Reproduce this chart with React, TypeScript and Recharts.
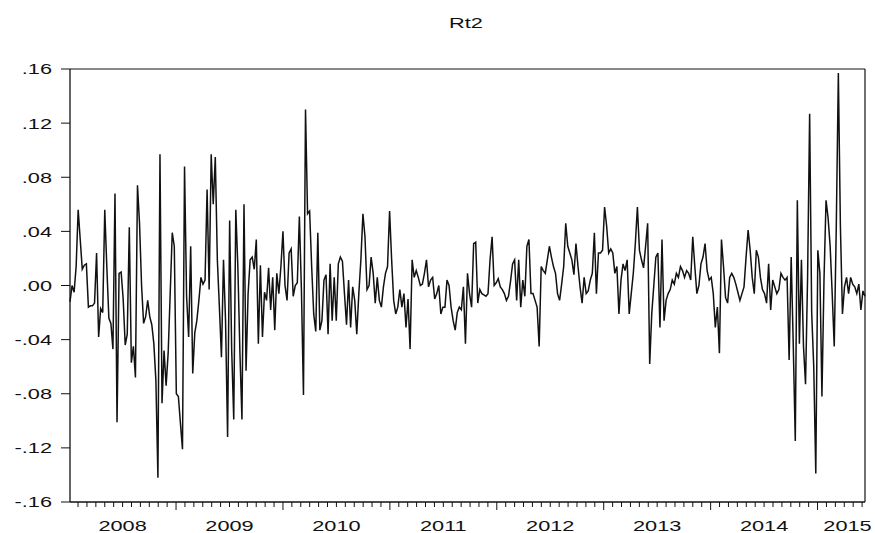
import React from 'react';
import { LineChart, Line, XAxis, YAxis, ReferenceLine } from 'recharts';

// Weekly returns Rt2, first observation 4 Jan 2008
const START_DATE = Date.UTC(2008, 0, 4);

const seg2008 = [
  -0.012, 0.000, -0.005, 0.014, 0.056, 0.034, 0.012, 0.015, 0.016, -0.016,
  -0.015, -0.015, -0.013, 0.024, -0.038, -0.017, -0.020, 0.056, 0.014, -0.024,
  -0.028, -0.047, 0.068, -0.101, 0.009, 0.010, -0.010, -0.044, -0.036, 0.043,
  -0.057, -0.045, -0.068, 0.074, 0.046, 0.000, -0.028, -0.023, -0.011, -0.023,
  -0.029, -0.043, -0.070, -0.142, 0.097, -0.087, -0.048, -0.074, -0.050, -0.006,
  0.039, 0.029, -0.080, -0.082, -0.102, -0.121, 0.088, -0.008, -0.038, 0.029,
  -0.065, -0.035, -0.026, -0.011, 0.006, 0.001, 0.004, 0.071, -0.003, 0.097,
  0.060, 0.095, 0.019, -0.016, -0.053, 0.019, -0.026, -0.112, 0.048, -0.048,
  -0.099, 0.056, 0.014, -0.049, -0.099, 0.060, -0.063, -0.006, 0.019, 0.021,
  0.012, 0.034, -0.043,
];

const seg2010 = [
  0.015, -0.038, -0.005, -0.011, 0.013, -0.018, 0.006, -0.033, 0.009, -0.006,
  0.014, 0.040, 0.000, -0.011, 0.024, 0.027, -0.008, 0.000, 0.002, 0.051,
  -0.003, -0.081, 0.130, 0.053, 0.055, 0.014, -0.021, -0.034, 0.039, -0.033,
  -0.026, 0.004, 0.008, -0.036, 0.016, -0.026, 0.006, -0.026, 0.016, 0.021,
  0.018, -0.006, -0.029, 0.004, -0.031, -0.001, -0.011, -0.036, -0.006, 0.019,
  0.053, 0.036, -0.003, 0.000, 0.021, 0.009, -0.013, 0.006, -0.011, -0.016,
  -0.001, 0.009, 0.014, 0.055, 0.019, -0.011, -0.021, -0.016, -0.003, -0.016,
  -0.006, -0.031, -0.010, -0.047, 0.019, 0.006, 0.011, 0.006, 0.000, 0.001,
  0.009, 0.019, -0.001, 0.004, 0.006, -0.010, -0.006, 0.000, -0.021, -0.016,
  -0.016, 0.004, 0.000, -0.016,
];

const seg2012 = [
  -0.026, -0.033, -0.020, -0.016, -0.018, -0.001, -0.043, 0.009, -0.006, -0.016,
  0.031, 0.032, -0.013, -0.003, -0.006, -0.007, -0.008, -0.006, 0.019, 0.036,
  0.000, 0.002, 0.005, -0.001, -0.003, -0.006, -0.011, -0.008, 0.003, 0.016,
  0.019, -0.011, 0.019, -0.016, 0.004, -0.008, 0.029, 0.034, -0.006, -0.006,
  -0.011, -0.016, -0.045, 0.014, 0.011, 0.009, 0.019, 0.029, 0.021, 0.014,
  0.009, -0.006, -0.011, 0.001, 0.014, 0.046, 0.029, 0.024, 0.019, 0.008,
  0.031, 0.014, -0.001, -0.013, 0.006, -0.006, -0.004, 0.004, 0.009, 0.039,
  -0.006, 0.024, 0.024, 0.026, 0.058, 0.044, 0.024, 0.027, 0.024, 0.009,
  0.014, -0.021, 0.004, 0.016, 0.011, 0.019, -0.021, -0.006, 0.009, 0.031,
  0.058, 0.026, 0.019, 0.013, 0.029, 0.046, -0.058, -0.021, 0.000, 0.021,
  0.024, -0.031,
];

const seg2014 = [
  0.034, -0.026, -0.011, -0.006, -0.003, 0.004, 0.001, 0.009, 0.006,
  0.014, 0.011, 0.006, 0.011, 0.009, 0.004, 0.036, 0.014, -0.006, 0.000,
  0.016, 0.021, 0.031, 0.011, 0.004, 0.006, -0.006, -0.031, -0.016, -0.050,
  0.034, 0.014, -0.009, -0.013, 0.006, 0.009, 0.006, 0.001, -0.005, -0.011,
  -0.006, -0.001, 0.021, 0.041, 0.026, 0.006, -0.006, 0.026, 0.021, 0.006,
  -0.003, -0.006, -0.013, 0.016, -0.018, 0.004, -0.001, -0.006, -0.003, 0.009,
  0.006, 0.004, 0.006, -0.055, 0.021, -0.043, -0.115, 0.063, -0.043, 0.019,
  -0.045, -0.073, 0.006, 0.127, -0.020, -0.060, -0.139, 0.026, 0.009, -0.082,
  0.004, 0.063, 0.050, 0.029, -0.006, -0.045, 0.044, 0.157, 0.044, -0.021,
  -0.001, 0.006, -0.006, 0.006, 0.001, -0.001, -0.006, 0.001, -0.018, -0.004,
  -0.008,
];

const values = [...seg2008, ...seg2010, ...seg2012, ...seg2014];

const YEAR_LABELS = ['2008', '2009', '2010', '2011', '2012', '2013', '2014', '2015'];
const YEAR_LABEL_POS = [2008.5, 2009.5, 2010.5, 2011.5, 2012.5, 2013.5, 2014.5, 2015.28];
const Y_TICKS = [-0.16, -0.12, -0.08, -0.04, 0, 0.04, 0.08, 0.12, 0.16];

const toYearFrac = (ms: number) => {
  const d = new Date(ms);
  const y = d.getUTCFullYear();
  const s = Date.UTC(y, 0, 1);
  const e = Date.UTC(y + 1, 0, 1);
  return y + (ms - s) / (e - s);
};

const data = values.map((v, i) => ({
  t: toYearFrac(START_DATE + i * 7 * 86400000),
  rt2: v,
}));

const tFirst = data[0].t;
const tLast = data[data.length - 1].t;

const monthTicks: number[] = [];
for (let y = 2008; y <= 2015; y++) {
  for (let m = 0; m < 12; m++) {
    const v = y + m / 12;
    if (v > tFirst && v <= tLast) monthTicks.push(v);
  }
}
const xTicks = [...monthTicks, YEAR_LABEL_POS[YEAR_LABEL_POS.length - 1]].sort((a, b) => a - b);

const FONT = '"Liberation Sans", Arial, Helvetica, sans-serif';
const INK = '#111';

const XTick = (props: any) => {
  const { x, y, payload } = props;
  const v = payload.value as number;
  const li = YEAR_LABEL_POS.findIndex((p) => Math.abs(p - v) < 1e-6);
  const frac = v - Math.floor(v);
  const mm = frac * 12;
  const isMonth = Math.abs(mm - Math.round(mm)) < 1e-6;
  const isYear = isMonth && Math.round(mm) % 12 === 0;
  return (
    <g>
      {isMonth && (
        <line x1={x} x2={x} y1={y} y2={y + (isYear ? 8 : 5)} stroke={INK} strokeWidth={1} />
      )}
      {li >= 0 && (
        <text
          transform={`translate(${x},${y + 29}) scale(1.45,1)`}
          textAnchor="middle"
          fontSize={15}
          fontFamily={FONT}
          fill={INK}
        >
          {YEAR_LABELS[li]}
        </text>
      )}
    </g>
  );
};

const fmtY = (v: number) => {
  const s = v.toFixed(2);
  return s.replace('0.', '.');
};

const YTick = (props: any) => {
  const { y, payload } = props;
  return (
    <g>
      <line x1={61} x2={70} y1={y} y2={y} stroke={INK} strokeWidth={1} />
      <text
        transform={`translate(52,${y}) scale(1.45,1)`}
        textAnchor="end"
        dy="0.36em"
        fontSize={15}
        fontFamily={FONT}
        fill={INK}
      >
        {fmtY(payload.value)}
      </text>
    </g>
  );
};

export default function App() {
  return (
    <div style={{ position: 'absolute', left: 0, top: 0, width: 875, height: 533, background: '#fff' }}>
      <LineChart
        width={875}
        height={533}
        data={data}
        margin={{ top: 69, right: 10, bottom: 0, left: 0 }}
      >
        <XAxis
          dataKey="t"
          type="number"
          domain={['dataMin', 'dataMax']}
          ticks={xTicks}
          interval={0}
          tickSize={0}
          tickMargin={0}
          tickLine={false}
          height={31}
          axisLine={{ stroke: INK, strokeWidth: 1.3 }}
          tick={<XTick />}
        />
        <YAxis
          type="number"
          domain={[-0.16, 0.16]}
          ticks={Y_TICKS}
          interval={0}
          width={70}
          tickSize={0}
          tickMargin={0}
          tickLine={false}
          axisLine={{ stroke: INK, strokeWidth: 1.3 }}
          tick={<YTick />}
        />
        <ReferenceLine y={0.16} stroke={INK} strokeWidth={1.2} ifOverflow="extendDomain" />
        <ReferenceLine x={tLast} stroke={INK} strokeWidth={1.2} ifOverflow="extendDomain" />
        <Line
          type="linear"
          dataKey="rt2"
          stroke={INK}
          strokeWidth={1.5}
          dot={false}
          isAnimationActive={false}
        />
      </LineChart>
      <svg
        width={875}
        height={40}
        style={{ position: 'absolute', left: 0, top: 0, pointerEvents: 'none' }}
      >
        <text
          transform="translate(466,28) scale(1.45,1)"
          textAnchor="middle"
          fontSize={15}
          fontFamily={FONT}
          fill={INK}
        >
          Rt2
        </text>
      </svg>
    </div>
  );
}
